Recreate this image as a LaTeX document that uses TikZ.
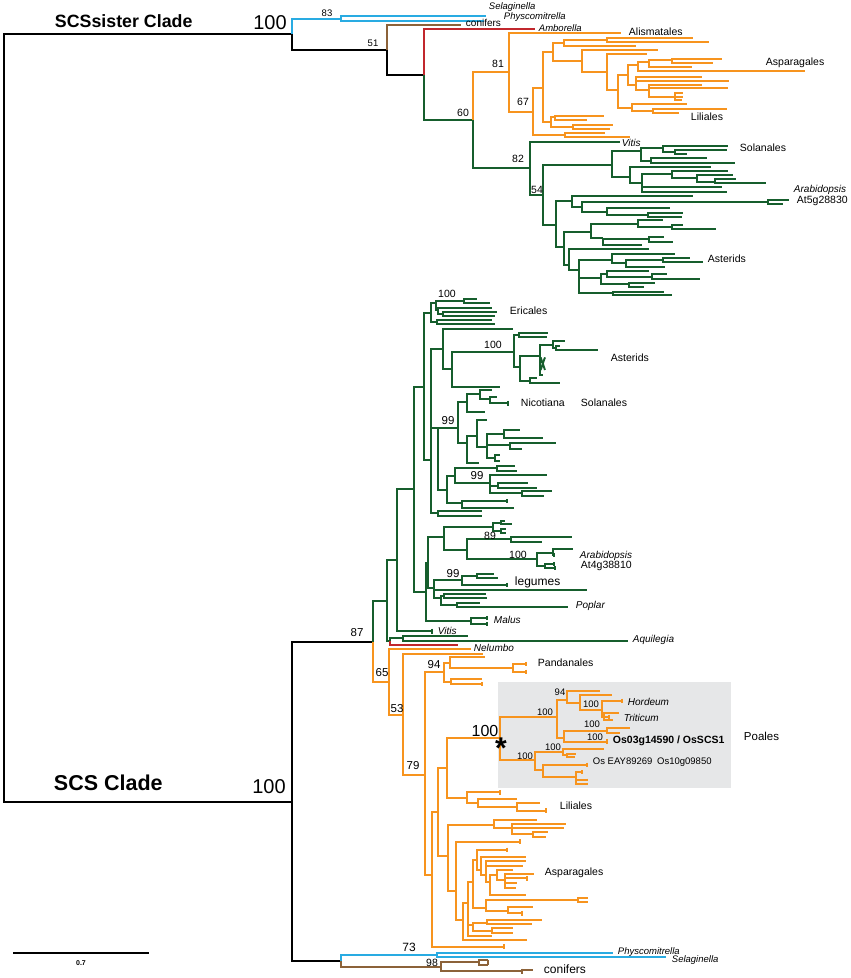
\documentclass[tikz,border=0pt]{standalone}
\usepackage{fontspec}
\setmainfont{Liberation Sans}
\definecolor{monoc}{RGB}{247,148,30}
\definecolor{eudic}{RGB}{22,94,45}
\definecolor{moss}{RGB}{41,171,226}
\definecolor{conif}{RGB}{140,98,57}
\definecolor{ambor}{RGB}{193,39,45}
\definecolor{boxgray}{RGB}{230,231,232}

\tikzset{
  zoomed/.style 2 args={shift={(#1,#2)},x=0.3333pt,y=-0.3333pt},
  lbl/.style={anchor=west,inner sep=0pt,font=\fontsize{10.5}{12}\selectfont},
  sp/.style={anchor=west,inner sep=0pt,font=\fontsize{10}{12}\selectfont\itshape},
  bs/.style={inner sep=0pt,font=\fontsize{10.5}{12}\selectfont},
  bsbig/.style={inner sep=0pt,font=\fontsize{20}{24}\selectfont},
}
% one elbow of the tree: from parent node to child end
\newcommand{\brnch}[4]{\draw (#1,#2) |- (#3,#4);}
% small tick for a collapsed tip
\newcommand{\tck}[3]{\draw (#1,#2-#3) -- (#1,#2+#3);}

\begin{document}
\begin{tikzpicture}[x=1pt,y=-1pt,line width=1.9pt]
\useasboundingbox (0,0) rectangle (851,978);

% Poales box
\fill[boxgray] (498,682) rectangle (731,788);

% root
\draw (292,34) -- (4,34) -- (4,802) -- (292,802);

% ---- SCSsister clade
\draw[moss] (292,34) |- (341,19);
\brnch{292}{34}{387}{50}
\draw[moss] (341,19) |- (486,16);
\draw[moss] (341,19) |- (484,21);
\draw[conif] (387,50) |- (461,25);
\brnch{387}{50}{424}{75}
\draw[ambor] (424,75) |- (535,29);
\draw[eudic] (424,75) |- (473,120);
\draw[monoc] (473,120) |- (509,72);
\draw[eudic] (473,120) |- (530,168);

% monocots (top)
\begin{scope}[zoomed={380}{0},monoc]
\brnch{387}{216}{722}{100}
\brnch{387}{216}{460}{335}
\brnch{460}{335}{490}{263}
\brnch{460}{335}{555}{405}
\brnch{555}{405}{676}{400}
\brnch{555}{405}{750}{411}
\brnch{490}{263}{520}{155}
\brnch{490}{263}{513}{365}
\brnch{513}{365}{525}{352}
\brnch{525}{352}{673}{348}
\brnch{525}{352}{620}{360}
\brnch{513}{365}{580}{380}
\brnch{580}{380}{700}{375}
\brnch{580}{380}{690}{387}
\brnch{520}{155}{553}{128}
\brnch{520}{155}{607}{183}
\brnch{553}{128}{680}{120}
\brnch{553}{128}{768}{137}
\brnch{680}{120}{940}{113}
\brnch{680}{120}{988}{125}
\brnch{607}{183}{835}{150}
\brnch{607}{183}{682}{215}
\brnch{682}{215}{800}{163}
\brnch{682}{215}{715}{270}
\brnch{715}{270}{745}{225}
\brnch{715}{270}{757}{325}
\brnch{745}{225}{775}{195}
\brnch{745}{225}{768}{255}
\brnch{775}{195}{808}{185}
\brnch{775}{195}{1275}{213}
\brnch{808}{185}{877}{180}
\brnch{808}{185}{935}{200}
\brnch{877}{180}{1025}{176}
\brnch{877}{180}{1000}{188}
\brnch{768}{255}{965}{232}
\brnch{768}{255}{1047}{243}
\brnch{768}{255}{808}{270}
\brnch{808}{270}{965}{254}
\brnch{808}{270}{1045}{264}
\brnch{808}{270}{885}{290}
\brnch{885}{290}{910}{280}
\brnch{885}{290}{908}{292}
\brnch{885}{290}{905}{300}
\brnch{757}{325}{920}{313}
\brnch{757}{325}{818}{332}
\brnch{818}{332}{1040}{326}
\brnch{818}{332}{898}{338}
\end{scope}

% eudicots (top)
\begin{scope}[zoomed={380}{130},eudic]
\brnch{450}{115}{720}{35}
\brnch{450}{115}{490}{195}
\brnch{490}{195}{697}{105}
\brnch{490}{195}{528}{285}
\brnch{697}{105}{783}{62}
\brnch{697}{105}{750}{140}
\brnch{783}{62}{848}{55}
\brnch{783}{62}{813}{92}
\brnch{848}{55}{1045}{47}
\brnch{848}{55}{885}{66}
\brnch{885}{66}{1040}{60}
\brnch{885}{66}{920}{72}
\brnch{813}{92}{982}{85}
\brnch{813}{92}{1065}{98}
\brnch{750}{140}{993}{110}
\brnch{750}{140}{785}{160}
\brnch{785}{160}{875}{133}
\brnch{785}{160}{1025}{172}
\brnch{785}{160}{1040}{185}
\brnch{875}{133}{1045}{122}
\brnch{875}{133}{950}{145}
\brnch{950}{145}{1060}{135}
\brnch{950}{145}{1005}{155}
\brnch{1005}{155}{1068}{148}
\brnch{1005}{155}{1158}{160}
\brnch{528}{285}{575}{212}
\brnch{528}{285}{552}{352}
\brnch{575}{212}{938}{197}
\brnch{575}{212}{607}{230}
\brnch{607}{230}{1165}{215}
\brnch{607}{230}{680}{245}
\brnch{1165}{215}{1228}{209}
\brnch{1165}{215}{1210}{222}
\brnch{680}{245}{870}{235}
\brnch{680}{245}{805}{255}
\brnch{805}{255}{910}{248}
\brnch{805}{255}{905}{260}
\brnch{552}{352}{633}{305}
\brnch{552}{352}{568}{405}
\brnch{633}{305}{775}{283}
\brnch{633}{305}{668}{325}
\brnch{775}{283}{848}{270}
\brnch{775}{283}{877}{292}
\brnch{877}{292}{910}{285}
\brnch{877}{292}{1007}{297}
\brnch{668}{325}{808}{328}
\brnch{668}{325}{785}{345}
\brnch{808}{328}{853}{320}
\brnch{808}{328}{880}{335}
\brnch{568}{405}{808}{358}
\brnch{568}{405}{597}{420}
\brnch{597}{420}{695}{390}
\brnch{597}{420}{663}{445}
\brnch{597}{420}{700}{490}
\brnch{695}{390}{885}{372}
\brnch{695}{390}{738}{400}
\brnch{738}{400}{848}{390}
\brnch{738}{400}{855}{410}
\brnch{848}{390}{930}{384}
\brnch{848}{390}{970}{396}
\brnch{663}{445}{680}{432}
\brnch{663}{445}{748}{462}
\brnch{680}{432}{808}{422}
\brnch{680}{432}{815}{440}
\brnch{815}{440}{862}{433}
\brnch{815}{440}{960}{447}
\brnch{748}{462}{825}{458}
\brnch{748}{462}{793}{470}
\brnch{700}{490}{852}{485}
\brnch{700}{490}{875}{495}
\end{scope}

% ---- SCS clade
\brnch{292}{802}{373}{642}
\brnch{292}{802}{341}{961}
\draw[eudic] (373,642) |- (387,601);
\draw[monoc] (373,642) |- (389,682);

\begin{scope}[eudic]
\brnch{387}{601}{397}{560}
\brnch{387}{601}{390}{641}
\brnch{390}{641}{403}{638}
\brnch{403}{638}{468}{636}
\brnch{403}{638}{628}{641}
\brnch{397}{560}{414}{489}
\brnch{397}{560}{432}{631}
\tck{432}{631}{2.5}
\brnch{414}{489}{424}{387}
\brnch{414}{489}{426}{592}
\brnch{424}{387}{431}{313}
\brnch{424}{387}{431}{460}
% Malus
\brnch{426}{592}{471}{621}
\brnch{471}{621}{487}{618}
\brnch{471}{621}{487}{624}
\tck{487}{618}{2}
\tck{487}{624}{2}
% Asterids / Solanales block
\brnch{431}{460}{443}{349}
\brnch{431}{460}{438}{428}
\brnch{431}{460}{438}{513}
\brnch{443}{349}{513}{329}
\brnch{443}{349}{452}{369}
\brnch{452}{369}{514}{352}
\brnch{452}{369}{500}{387}
\brnch{438}{428}{458}{428}
\brnch{438}{428}{447}{490}
\brnch{458}{428}{467}{402}
\brnch{458}{428}{467}{443}
\brnch{467}{402}{480}{394}
\brnch{467}{402}{485}{412}
\brnch{480}{394}{492}{390}
\brnch{480}{394}{490}{399}
\brnch{490}{399}{497}{397}
\brnch{490}{399}{508}{403}
\tck{508}{403}{2.5}
\brnch{467}{443}{477}{436}
\brnch{467}{443}{479}{463}
\brnch{477}{436}{487}{420}
\brnch{477}{436}{487}{447}
\brnch{487}{447}{504}{434}
\brnch{487}{447}{510}{445}
\brnch{487}{447}{495}{458}
\brnch{504}{434}{520}{430}
\brnch{504}{434}{543}{438}
\brnch{510}{445}{556}{443}
\brnch{510}{445}{522}{449}
\brnch{495}{458}{500}{455}
\brnch{495}{458}{500}{461}
\brnch{447}{490}{455}{476}
\brnch{447}{490}{462}{503}
\brnch{455}{476}{497}{468}
\brnch{455}{476}{490}{483}
\brnch{497}{468}{515}{466}
\brnch{497}{468}{517}{471}
\brnch{490}{483}{547}{475}
\brnch{490}{483}{498}{486}
\brnch{490}{483}{522}{493}
\brnch{498}{486}{528}{483}
\brnch{498}{486}{537}{488}
\brnch{522}{493}{552}{491}
\brnch{522}{493}{544}{496}
\brnch{462}{503}{507}{501}
\brnch{462}{503}{514}{508}
\tck{507}{501}{2}
\brnch{438}{513}{482}{511}
\brnch{438}{513}{482}{516}
\brnch{426}{592}{428}{563}
\brnch{428}{563}{444}{537}
\brnch{428}{563}{434}{588}
\end{scope}

% Ericales
\begin{scope}[zoomed={380}{270},eudic]
\brnch{152}{130}{168}{100}
\brnch{152}{130}{170}{155}
\brnch{168}{100}{252}{93}
\brnch{168}{100}{175}{120}
\brnch{252}{93}{290}{88}
\brnch{252}{93}{330}{100}
\brnch{175}{120}{335}{113}
\brnch{175}{120}{190}{131}
\brnch{190}{131}{350}{126}
\brnch{190}{131}{345}{137}
\brnch{170}{155}{335}{150}
\brnch{170}{155}{345}{162}
% Asterids (100)
\brnch{403}{246}{418}{195}
\brnch{418}{195}{505}{188}
\brnch{418}{195}{500}{200}
\brnch{403}{246}{420}{290}
\brnch{420}{290}{480}{258}
\brnch{420}{290}{450}{332}
\brnch{480}{258}{520}{225}
\brnch{520}{225}{555}{213}
\brnch{520}{225}{528}{233}
\brnch{528}{233}{655}{240}
\brnch{528}{233}{540}{229}
\brnch{480}{258}{492}{275}
\brnch{480}{258}{488}{315}
\draw (482,262) -- (495,300);
\draw (495,262) -- (482,300);
\brnch{450}{332}{470}{325}
\brnch{450}{332}{540}{340}
\end{scope}

% 89 / legumes / Poplar
\begin{scope}[zoomed={380}{440},eudic]
\brnch{193}{290}{340}{260}
\brnch{193}{290}{260}{330}
\brnch{340}{260}{362}{250}
\brnch{340}{260}{362}{272}
\brnch{362}{250}{395}{253}
\brnch{362}{250}{375}{243}
\brnch{362}{272}{378}{266}
\brnch{362}{272}{378}{278}
\brnch{260}{330}{392}{298}
\brnch{260}{330}{470}{358}
\brnch{392}{298}{575}{290}
\brnch{392}{298}{485}{305}
\brnch{470}{358}{520}{338}
\brnch{470}{358}{495}{378}
\brnch{520}{338}{580}{328}
\brnch{520}{338}{522}{345}
\tck{522}{345}{6}
\brnch{495}{378}{522}{372}
\brnch{495}{378}{525}{385}
\tck{522}{372}{6}
\tck{525}{385}{6}
\brnch{163}{445}{245}{420}
\brnch{163}{445}{620}{450}
\brnch{163}{445}{183}{475}
\brnch{245}{420}{290}{408}
\brnch{245}{420}{380}{435}
\tck{380}{435}{6}
\brnch{290}{408}{343}{403}
\brnch{290}{408}{355}{413}
\brnch{183}{475}{192}{468}
\brnch{183}{475}{230}{495}
\brnch{192}{468}{318}{463}
\brnch{192}{468}{320}{473}
\brnch{230}{495}{300}{488}
\brnch{230}{495}{565}{500}
\end{scope}

% orange monocots (SCS)
\begin{scope}[monoc]
\brnch{389}{682}{471}{649}
\brnch{389}{682}{403}{715}
\brnch{403}{715}{483}{654}
\brnch{403}{715}{425}{775}
\brnch{425}{775}{444}{672}
\brnch{425}{775}{432}{875}
\end{scope}
\draw[ambor] (390,641) |- (458,645);

% Pandanales
\begin{scope}[zoomed={380}{600},monoc]
\brnch{192}{215}{210}{190}
\brnch{192}{215}{212}{245}
\brnch{210}{190}{315}{172}
\brnch{210}{190}{400}{205}
\brnch{400}{205}{438}{193}
\brnch{400}{205}{438}{215}
\tck{438}{193}{6}
\tck{438}{215}{6}
\brnch{212}{245}{305}{237}
\brnch{212}{245}{305}{252}
\tck{305}{252}{6}
\end{scope}

% Liliales, Asparagales
\begin{scope}[zoomed={380}{760},monoc]
\brnch{155}{345}{175}{155}
\brnch{155}{345}{372}{560}
\tck{372}{560}{7}
\brnch{175}{155}{200}{25}
\brnch{175}{155}{205}{288}
\brnch{200}{25}{360}{-66}
\brnch{200}{25}{262}{113}
\brnch{262}{113}{360}{97}
\tck{360}{97}{7}
\brnch{262}{113}{295}{130}
\brnch{295}{130}{412}{117}
\brnch{295}{130}{412}{140}
\brnch{412}{140}{480}{130}
\brnch{412}{140}{497}{152}
\tck{497}{152}{7}
\brnch{205}{288}{342}{195}
\brnch{205}{288}{228}{392}
\brnch{342}{195}{470}{180}
\brnch{342}{195}{395}{205}
\brnch{395}{205}{558}{192}
\brnch{395}{205}{553}{203}
\brnch{395}{205}{458}{222}
\brnch{458}{222}{505}{215}
\brnch{458}{222}{497}{230}
\brnch{228}{392}{420}{245}
\tck{420}{245}{7}
\brnch{228}{392}{250}{480}
\brnch{250}{480}{265}{430}
\brnch{250}{480}{440}{540}
\brnch{265}{430}{278}{365}
\brnch{265}{430}{278}{495}
\brnch{265}{430}{335}{528}
\brnch{278}{365}{292}{300}
\brnch{278}{365}{318}{445}
\brnch{292}{300}{380}{270}
\tck{380}{270}{7}
\brnch{292}{300}{303}{330}
\brnch{303}{330}{437}{290}
\brnch{303}{330}{318}{345}
\brnch{318}{345}{437}{303}
\brnch{318}{345}{430}{317}
\brnch{318}{345}{330}{365}
\brnch{330}{365}{350}{345}
\brnch{330}{365}{437}{405}
\brnch{350}{345}{398}{330}
\brnch{350}{345}{375}{360}
\brnch{375}{360}{462}{342}
\brnch{375}{360}{440}{355}
\tck{440}{355}{7}
\brnch{375}{360}{410}{370}
\brnch{375}{360}{408}{385}
\brnch{318}{445}{595}{420}
\brnch{595}{420}{625}{415}
\brnch{595}{420}{625}{427}
\brnch{318}{445}{385}{452}
\brnch{385}{452}{460}{440}
\brnch{385}{452}{425}{460}
\tck{425}{460}{7}
\brnch{278}{495}{320}{488}
\brnch{278}{495}{335}{512}
\brnch{320}{488}{485}{480}
\brnch{320}{488}{455}{492}
\brnch{335}{512}{400}{505}
\brnch{335}{512}{400}{518}
\end{scope}

% Poales
\begin{scope}[zoomed={400}{670},monoc]
\brnch{300}{205}{470}{140}
\brnch{300}{205}{405}{270}
\brnch{470}{140}{500}{90}
\brnch{470}{140}{492}{203}
\brnch{500}{90}{600}{62}
\brnch{500}{90}{540}{100}
\brnch{540}{100}{635}{75}
\brnch{540}{100}{605}{120}
\brnch{605}{120}{665}{93}
\tck{665}{93}{7}
\brnch{605}{120}{612}{140}
\brnch{612}{140}{658}{128}
\brnch{612}{140}{628}{140}
\brnch{612}{140}{640}{150}
\tck{628}{140}{6}
\brnch{492}{203}{621}{183}
\brnch{621}{183}{690}{174}
\brnch{621}{183}{660}{190}
\brnch{492}{203}{621}{215}
\tck{621}{215}{7}
\brnch{405}{270}{490}{245}
\brnch{405}{270}{430}{300}
\brnch{490}{245}{612}{237}
\brnch{490}{245}{500}{256}
\brnch{500}{256}{528}{252}
\brnch{500}{256}{525}{262}
\brnch{430}{300}{561}{285}
\tck{561}{285}{7}
\brnch{430}{300}{528}{321}
\brnch{528}{321}{546}{306}
\brnch{528}{321}{561}{330}
\brnch{528}{321}{561}{342}
\tck{546}{306}{5}
\tck{561}{330}{4}
\tck{561}{342}{4}
\end{scope}

% outgroups at the bottom
\draw[moss] (341,961) |- (437,955);
\draw[moss] (437,955) |- (613,953);
\draw[moss] (437,955) |- (666,957);
\begin{scope}[conif]
\brnch{341}{961}{441}{967}
\brnch{441}{967}{479}{962}
\brnch{441}{967}{522}{971}
\brnch{479}{962}{488}{960}
\brnch{479}{962}{488}{965}
\tck{488}{962}{2.5}
\brnch{522}{971}{533}{970}
\tck{522}{971}{2.5}
\end{scope}

% scale bar
\coordinate (sb1) at (13,953);
\coordinate (sb2) at (149,953);
\draw[line width=1.4pt] (sb1) -- (sb2);
\node[inner sep=0pt,font=\fontsize{7}{8}\selectfont\bfseries] (scalelbl) at (81,963) {0.7};

% clade titles
\node[anchor=west,inner sep=0pt,font=\fontsize{17.8}{20}\selectfont\bfseries] (sister) at (54,21) {SCSsister Clade};
\node[bsbig] (bssister) at (270,23) {100};
\node[anchor=west,inner sep=0pt,font=\fontsize{21.5}{24}\selectfont\bfseries] (scs) at (53,783) {SCS Clade};
\node[bsbig] (bsscs) at (269,787) {100};

% support values
\node[bs,font=\fontsize{9.5}{11}\selectfont] (b83) at (327,13) {83};
\node[bs,font=\fontsize{9.5}{11}\selectfont] (b51) at (373,43) {51};
\node[bs] (b81) at (498,64) {81};
\node[bs] (b67) at (523,102) {67};
\node[bs] (b60) at (463,113) {60};
\node[bs] (b82) at (518,159) {82};
\node[bs] (b54) at (537,190) {54};
\node[bs] (b100e) at (447,294) {100};
\node[bs] (b100a) at (493,345) {100};
\node[bs,font=\fontsize{11.5}{13}\selectfont] (b99s) at (448,421) {99};
\node[bs,font=\fontsize{11.5}{13}\selectfont] (b99b) at (477,476) {99};
\node[bs] (b89) at (490,536) {89};
\node[bs] (b100at) at (518,555) {100};
\node[bs,font=\fontsize{11.5}{13}\selectfont] (b99l) at (453,574) {99};
\node[bs,font=\fontsize{11.5}{13}\selectfont] (b87) at (357,633) {87};
\node[bs,font=\fontsize{11.5}{13}\selectfont] (b65) at (382,673) {65};
\node[bs,font=\fontsize{11.5}{13}\selectfont] (b53) at (397,709) {53};
\node[bs,font=\fontsize{11.5}{13}\selectfont] (b94p) at (434,665) {94};
\node[bs,font=\fontsize{11.5}{13}\selectfont] (b79) at (413,766) {79};
\node[bs,font=\fontsize{12}{13}\selectfont] (b73) at (409,947) {73};
\node[bs] (b98) at (432,963) {98};
% Poales support
\node[bs,font=\fontsize{9.5}{11}\selectfont] (p94) at (560,692) {94};
\node[bs,font=\fontsize{9.5}{11}\selectfont] (p100a) at (545,712) {100};
\node[bs,font=\fontsize{9.5}{11}\selectfont] (p100b) at (591,704) {100};
\node[bs,font=\fontsize{9.5}{11}\selectfont] (p100c) at (592,724) {100};
\node[bs,font=\fontsize{9.5}{11}\selectfont] (p100d) at (595,737) {100};
\node[bs,font=\fontsize{9.5}{11}\selectfont] (p100e) at (553,747) {100};
\node[bs,font=\fontsize{9.5}{11}\selectfont] (p100f) at (525,756) {100};
\node[bs,font=\fontsize{16}{18}\selectfont] (p100star) at (485,731) {100};
\node[inner sep=0pt,font=\fontsize{30}{30}\selectfont\bfseries] (star) at (501,748) {*};

% taxon labels
\node[sp,font=\fontsize{9.5}{11}\selectfont\itshape] (tSel) at (488,7) {Selaginella};
\node[sp,font=\fontsize{9.5}{11}\selectfont\itshape] (tPhy) at (503,17) {Physcomitrella};
\node[lbl,font=\fontsize{10}{11}\selectfont] (tCon) at (465,23) {conifers};
\node[sp,font=\fontsize{9.5}{11}\selectfont\itshape] (tAmb) at (538,28) {Amborella};
\node[lbl] (tAli) at (628,32) {Alismatales};
\node[lbl] (tAsp) at (765,63) {Asparagales};
\node[lbl] (tLil) at (690,117) {Liliales};
\node[sp] (tVit) at (621,143) {Vitis};
\node[lbl] (tSol) at (739,148) {Solanales};
\node[sp] (tAra) at (793,190) {Arabidopsis};
\node[lbl] (tAt5) at (796,201) {At5g28830};
\node[lbl] (tAst) at (707,259) {Asterids};
\node[lbl] (tEri) at (509,311) {Ericales};
\node[lbl] (tAst2) at (610,358) {Asterids};
\node[lbl] (tNic) at (520,403) {Nicotiana};
\node[lbl] (tSol2) at (580,403) {Solanales};
\node[sp] (tAra2) at (579,556) {Arabidopsis};
\node[lbl] (tAt4) at (580,566) {At4g38810};
\node[lbl,font=\fontsize{12}{13}\selectfont] (tLeg) at (514,582) {legumes};
\node[sp] (tPop) at (575,606) {Poplar};
\node[sp] (tMal) at (493,620) {Malus};
\node[sp] (tVit2) at (437,631) {Vitis};
\node[sp] (tAqu) at (632,640) {Aquilegia};
\node[sp] (tNel) at (473,648) {Nelumbo};
\node[lbl] (tPan) at (537,663) {Pandanales};
\node[sp] (tHor) at (627,702) {Hordeum};
\node[sp] (tTri) at (623,718) {Triticum};
\node[lbl,font=\fontsize{10.5}{12}\selectfont\bfseries] (tOs3) at (612,741) {Os03g14590 / OsSCS1};
\node[lbl,font=\fontsize{9.5}{11}\selectfont] (tOs10) at (592,762) {Os EAY89269\enspace Os10g09850};
\node[lbl,font=\fontsize{11.5}{13}\selectfont] (tPoa) at (743,736) {Poales};
\node[lbl] (tLil2) at (559,806) {Liliales};
\node[lbl] (tAsp2) at (544,873) {Asparagales};
\node[sp,font=\fontsize{9.5}{11}\selectfont\itshape] (tPhy2) at (617,952) {Physcomitrella};
\node[sp,font=\fontsize{9.5}{11}\selectfont\itshape] (tSel2) at (671,960) {Selaginella};
\node[lbl,font=\fontsize{12}{13}\selectfont] (tCon2) at (543,969) {conifers};
\end{tikzpicture}
\end{document}
